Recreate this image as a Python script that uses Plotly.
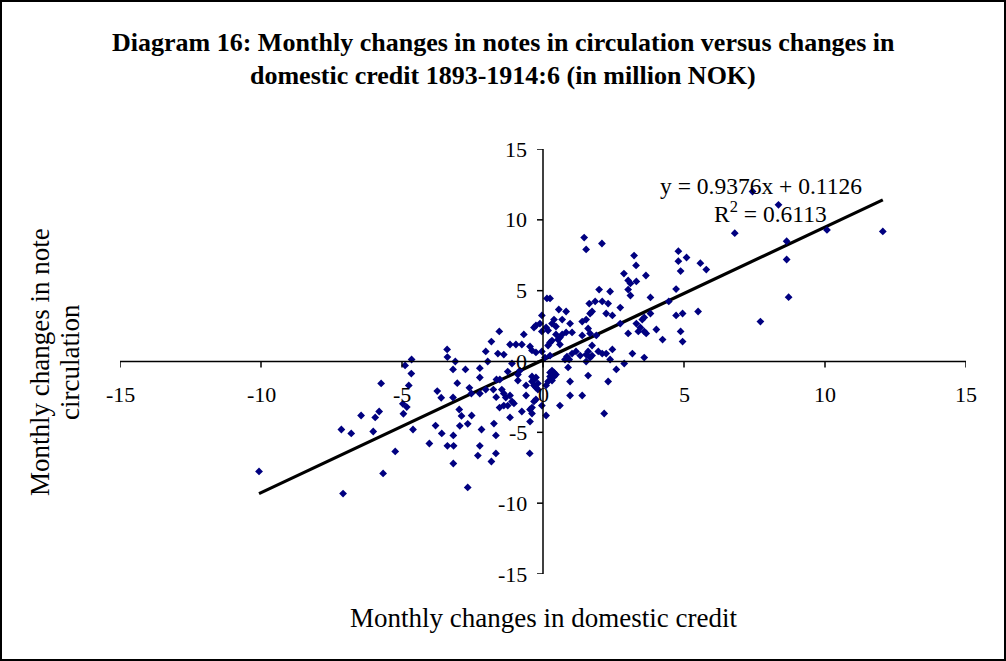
import plotly.graph_objects as go

# Monthly changes (million NOK)
credit_change = [
    -5.74, -5.81, -6.45, -5.95, -7.15, -6.80, -6.02, -5.24, -10.07, -5.67, -7.09,
    -1.55, -1.83, -3.40, -2.03, -1.60, -3.39, -3.11, -4.66, -4.89, -1.96, -3.19,
    -2.75, -2.24, -4.67, -2.24, -1.65, -4.76, -3.04, -2.61, -2.03, -1.76, -3.75,
    -3.61, -3.19, -2.54, -2.24, -1.66, -4.97, -4.83, -4.95, -2.97, -2.89, -2.53,
    -1.54, -3.81, -2.95, -2.67, -2.18, -1.74, -4.61, -3.59, -3.18, -4.03, -3.39,
    -3.17, -2.24, -1.67, -2.31, -1.67, -1.83, -3.18, -2.67, -0.47,
    0.14, 0.25, 1.99, 1.64, 1.85, 0.82, 0.56, -0.04, 1.74, 1.67, 0.68, 0.39,
    0.32, 0.96, 1.39, 1.53, -0.11, -0.25, -0.32, 0.11, -0.04, -0.68, 0.46, 0.18,
    0.46, 0.68, 0.82, 1.03, 0.60, 0.53, 0.32, 0.25, 0.60, 1.60, 1.39, 1.67,
    1.89, -1.17, -0.96, -0.75, -0.46, -0.39, -0.25, -1.39, 1.74, 1.96, 1.53,
    1.74, 1.32, 1.03, 1.17, 1.60, 0.25, 0.07, -0.04, 0.18,
    0.78, 0.93, 0.85, 1.53, 1.67, 0.89, -1.25, -0.82, -0.89, -1.10, -1.53,
    -0.89, -0.39, -0.32, -0.25, -0.39, -0.32, -0.25, -0.18, -0.18, 0.25, 0.32,
    0.39, 0.46, 0.39, 0.25, 0.32, 0.18, 0.11, 0.96, 1.60, 2.31, -0.60, -1.46,
    -1.39, -1.32, -1.17, -1.10, -1.39, -1.25, -1.03, -0.60, -0.25, -0.32,
    -0.39, 0.96, 1.39, 0.60, -0.75, -0.46, -0.39, -0.46, -1.17, 0.11, 2.17,
    -0.04,
    3.02, 3.10, 3.31, 3.02, 3.10, 2.38, 3.81, 2.10, 2.31, 2.74, 2.24, 2.46,
    3.81, 2.74, 3.31, 3.52, 3.59, 3.45, 3.38, 3.59, 3.66, 3.02, 4.02, 2.10,
    2.24, 2.46, 2.38, 3.17, 3.59, 2.88, 2.60,
    1.46, 1.53, 2.09, 3.23, 3.30, 2.87, 3.65,
    7.43, 8.35, 6.80, 8.64, 8.64, 4.80, 4.80, 5.09, 4.88, 5.58, 5.79, 4.72,
    4.46, 8.71, 4.72, 4.95, 5.50, 7.71, 4.24, 4.88, 4.95,
    10.07, 12.05,
]
notes_change = [
    -1.55, -3.53, -3.81, -3.95, -4.80, -5.08, -4.94, -6.35, -7.76, -7.90, -9.32,
    2.12, 1.41, 0.85, 0.71, 0.56, 0.31, 0.00, 0.14, -0.28, 0.00, -0.56,
    -0.56, -0.47, -0.85, -1.13, -1.27, -1.69, -1.53, -1.86, -1.98, -1.98, -2.09,
    -2.56, -2.54, -2.26, -2.26, -2.52, -2.99, -3.22, -3.69, -3.39, -3.84, -3.81,
    -3.25, -4.52, -4.54, -4.40, -4.80, -4.38, -4.80, -5.08, -5.22, -5.79, -5.95,
    -5.95, -5.95, -5.22, -6.64, -6.49, -7.06, -7.20, -8.89, -6.49,
    4.45, 4.45, 5.08, 4.09, 4.24, 3.53, 3.67, 3.25, 3.53, 3.39, 2.96, 2.96,
    2.68, 2.68, 2.82, 2.96, 2.68, 2.54, 2.40, 2.40, 2.12, 1.91, 2.47, 2.19,
    1.91, 1.91, 2.05, 2.05, 1.69, 1.55, 1.48, 1.34, 1.20, 2.33, 1.84, 1.98,
    1.84, 1.20, 1.20, 1.20, 1.06, 0.78, 0.64, 0.49, 1.13, 0.71, 0.49,
    0.42, 0.42, 0.56, 0.71, 0.71, 0.42, 0.28, 0.71, 1.13,
    0.14, 0.14, 0.35, 0.00, 0.28, -0.42, -0.71, -0.64, -0.92, -0.14, -1.27,
    -1.34, -1.06, -1.27, -1.13, -1.41, -1.69, -1.84, -1.98, -1.55, -0.78, -0.64,
    -0.78, -0.92, -1.06, -1.06, -1.34, -1.41, -1.69, -1.41, -0.99, -1.41, -1.69, -1.98,
    -2.26, -2.54, -2.40, -2.82, -3.11, -3.11, -2.96, -2.40, -2.68, -2.82,
    -3.25, -2.40, -2.40, -3.11, -3.53, -3.39, -3.67, -4.24, -3.95, -3.81, -3.67,
    -3.11,
    5.72, 5.51, 5.65, 5.08, 4.66, 4.94, 4.52, 4.24, 4.09, 3.81, 3.39, 3.25,
    3.39, 2.68, 2.68, 2.96, 3.11, 2.40, 2.12, 2.12, 1.98, 1.98, 2.26, 0.56,
    0.56, 0.85, 0.14, 0.56, 0.28, -0.14, -0.56,
    8.75, 7.91, 8.33, 7.48, 6.78, 6.21, 6.07,
    12.00, 11.06, 9.06, 8.49, 7.20, 7.79, 7.08, 7.34, 6.38, 6.94, 6.49, 5.11,
    4.24, 4.54, 3.25, 3.39, 3.53, 2.82, 1.55, 2.12, 1.41,
    9.29, 9.18,
]

# Linear trend as reported on the chart
slope = 0.9376
intercept = 0.1126
r_squared = 0.6113

tick_vals = [-15, -10, -5, 0, 5, 10, 15]

# plot box in pixels
W, H = 1006, 661
ml, mr, mt, mb = 120, 40, 149, 87
pw, ph = W - ml - mr, H - mt - mb
px_x = pw / 30.0
px_y = ph / 30.0

serif = "Liberation Serif, Times New Roman, serif"

fig = go.Figure()

x_min, x_max = min(credit_change), max(credit_change)
fig.add_trace(go.Scatter(
    x=[x_min, x_max],
    y=[slope * x_min + intercept, slope * x_max + intercept],
    mode='lines', line=dict(color='black', width=3.2),
    hoverinfo='skip'
))

fig.add_trace(go.Scatter(
    x=credit_change, y=notes_change,
    mode='markers',
    marker=dict(symbol='diamond', size=6, color='#000080'),
))

shapes = []
annotations = []

# axes through the origin
shapes.append(dict(type='line', xref='x', yref='y', x0=-15, x1=15, y0=0, y1=0,
                   line=dict(color='black', width=1.5)))
shapes.append(dict(type='line', xref='x', yref='y', x0=0, x1=0, y0=-15, y1=15,
                   line=dict(color='black', width=1.5)))

for v in tick_vals:
    # x ticks hang below the horizontal axis
    shapes.append(dict(type='line', xref='x', yref='y', x0=v, x1=v,
                       y0=0, y1=-6 / px_y, line=dict(color='black', width=1.5)))
    # y ticks stick out left of the vertical axis
    shapes.append(dict(type='line', xref='x', yref='y', x0=0, x1=-6 / px_x,
                       y0=v, y1=v, line=dict(color='black', width=1.5)))
    annotations.append(dict(x=v, y=0, xref='x', yref='y', text=str(v),
                            showarrow=False, yanchor='middle', yshift=-33,
                            font=dict(family=serif, size=22, color='black')))
    annotations.append(dict(x=0, y=v, xref='x', yref='y', text=str(v),
                            showarrow=False, xanchor='right', xshift=-14,
                            yanchor='middle',
                            font=dict(family=serif, size=22, color='black')))

# outer frame around the whole picture
shapes.append(dict(type='rect', xref='paper', yref='paper',
                   x0=(1 - ml) / pw, x1=(W - 1 - ml) / pw,
                   y0=(ph + mt - (H - 1)) / ph, y1=(ph + mt - 1) / ph,
                   line=dict(color='black', width=2)))

def pap_x(px):
    return (px - ml) / pw

def pap_y(py):
    return (mt + ph - py) / ph

title_lines = [
    "Diagram 16: Monthly changes in notes in circulation versus changes in",
    "domestic credit 1893-1914:6 (in million NOK)",
]
for i, line in enumerate(title_lines):
    annotations.append(dict(x=pap_x(503), y=pap_y(43 + 32 * i), xref='paper', yref='paper',
                            text='<b>' + line + '</b>', showarrow=False,
                            xanchor='center', yanchor='middle',
                            font=dict(family=serif, size=26, color='black')))

annotations.append(dict(x=pap_x(543), y=pap_y(618), xref='paper', yref='paper',
                        text='Monthly changes in domestic credit', showarrow=False,
                        xanchor='center', yanchor='middle',
                        font=dict(family=serif, size=27, color='black')))

for text, cx in [('Monthly changes in note', 40), ('circulation', 70)]:
    annotations.append(dict(x=pap_x(cx), y=pap_y(362), xref='paper', yref='paper',
                            text=text, showarrow=False, textangle=-90,
                            xanchor='center', yanchor='middle',
                            font=dict(family=serif, size=27, color='black')))

# trendline label
annotations.append(dict(x=pap_x(761), y=pap_y(186), xref='paper', yref='paper',
                        text=f'y = {slope}x + {intercept}', showarrow=False,
                        xanchor='center', yanchor='middle',
                        font=dict(family=serif, size=23.5, color='black')))
annotations.append(dict(x=pap_x(770), y=pap_y(212), xref='paper', yref='paper',
                        text=f'R<sup>2</sup> = {r_squared}', showarrow=False,
                        xanchor='center', yanchor='middle',
                        font=dict(family=serif, size=23.5, color='black')))

fig.update_layout(
    width=W, height=H,
    margin=dict(l=ml, r=mr, t=mt, b=mb),
    paper_bgcolor='white', plot_bgcolor='white',
    showlegend=False,
    xaxis=dict(range=[-15, 15], showgrid=False, zeroline=False,
               showticklabels=False, ticks='', showline=False, fixedrange=True),
    yaxis=dict(range=[-15, 15], showgrid=False, zeroline=False,
               showticklabels=False, ticks='', showline=False, fixedrange=True),
    shapes=shapes,
    annotations=annotations,
)

# the page body has a default margin; drop it so the figure sits at (0, 0)
fig.write_html("out.html", config={'displayModeBar': False},
               post_script="document.body.style.margin='0';")
